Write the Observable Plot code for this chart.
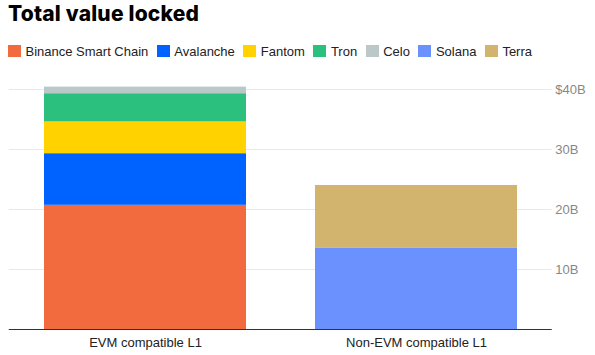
<!DOCTYPE html>
<html>
<head>
<meta charset="utf-8">
<script src="https://cdn.jsdelivr.net/npm/d3@7"></script>
<script src="https://cdn.jsdelivr.net/npm/@observablehq/plot@0.6"></script>
<style>
  html, body { margin: 0; padding: 0; background: #fff; }
  #wrap { position: relative; width: 595px; height: 355px; overflow: hidden; font-family: "Liberation Sans", Arial, sans-serif; }
  #title { position: absolute; left: 8px; top: 0.5px; font-size: 21px; line-height: 26px; font-weight: 800; color: #000; letter-spacing: 0.2px; font-family: Inter, "Liberation Sans", sans-serif; }
  #legend { position: absolute; left: 8px; top: 43px; height: 16px; display: flex; align-items: center; font-size: 13px; color: #222; white-space: nowrap; }
  .item { display: flex; align-items: center; margin-right: 8.5px; }
  .sw { width: 13px; height: 12px; margin-right: 4.5px; }
  #chart { position: absolute; left: 0; top: 75px; }
</style>
</head>
<body>
<div id="wrap">
  <div id="title">Total value locked</div>
  <div id="legend"></div>
  <div id="chart"></div>
</div>
<script>
const categories = ["EVM compatible L1", "Non-EVM compatible L1"];
const chains = ["Binance Smart Chain", "Avalanche", "Fantom", "Tron", "Celo", "Solana", "Terra"];
const chainCategory = ["EVM compatible L1", "EVM compatible L1", "EVM compatible L1", "EVM compatible L1", "EVM compatible L1", "Non-EVM compatible L1", "Non-EVM compatible L1"];
const tvl = [20.7, 8.6, 5.3, 4.7, 1.1, 13.6, 10.4];
const colors = ["#F26B3F", "#0062FF", "#FFD200", "#2CC07E", "#BCC8C8", "#6B91FF", "#D2B46E"];
const yTicks = [10, 20, 30, 40];
const yTickLabels = ["10B", "20B", "30B", "$40B"];

const data = chains.map((c, i) => ({chain: c, category: chainCategory[i], value: tvl[i]}));

const legend = document.getElementById("legend");
chains.forEach((c, i) => {
  const it = document.createElement("div");
  it.className = "item";
  it.innerHTML = `<div class="sw" style="background:${colors[i]}"></div><span>${c}</span>`;
  legend.appendChild(it);
});

const chart = Plot.plot({
  width: 595,
  height: 280,
  marginTop: 14,
  marginBottom: 26,
  marginLeft: 8.75,
  marginRight: 43.25,
  style: {fontFamily: '"Liberation Sans", Arial, sans-serif', background: "#fff"},
  x: {domain: categories, paddingInner: 0.256, paddingOuter: 0.128, label: null},
  y: {domain: [0, 40], label: null},
  color: {domain: chains, range: colors},
  marks: [
    Plot.gridY(yTicks, {stroke: "#e8e8e8", strokeOpacity: 1}),
    Plot.barY(data, {x: "category", y: "value", fill: "chain"}),
    Plot.ruleY([0], {stroke: "#333", strokeWidth: 1}),
    Plot.axisY(yTicks, {anchor: "right", tickSize: 0, tickPadding: 3, fontSize: 13, fill: "#888", tickFormat: d => yTickLabels[yTicks.indexOf(d)]}),
    Plot.axisX({tickSize: 0, tickPadding: 8, fontSize: 13, fill: "#222"})
  ]
});
document.getElementById("chart").appendChild(chart);
</script>
</body>
</html>
